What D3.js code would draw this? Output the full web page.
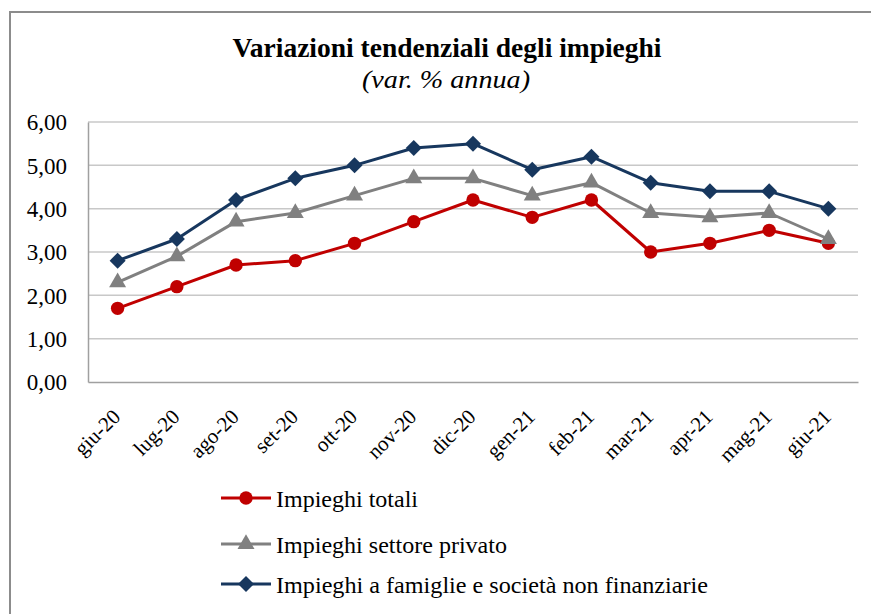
<!DOCTYPE html>
<html><head><meta charset="utf-8">
<script src="https://cdn.jsdelivr.net/npm/d3@7"></script>
<style>html,body{margin:0;background:#fff;overflow:hidden}svg{display:block}</style>
</head><body>
<svg id="c" width="871" height="614"></svg>
<script>
const categories = ["giu-20","lug-20","ago-20","set-20","ott-20","nov-20","dic-20","gen-21","feb-21","mar-21","apr-21","mag-21","giu-21"];
const totali = [1.7,2.2,2.7,2.8,3.2,3.7,4.2,3.8,4.2,3.0,3.2,3.5,3.2];
const privato = [2.3,2.9,3.7,3.9,4.3,4.7,4.7,4.3,4.6,3.9,3.8,3.9,3.3];
const famiglie = [2.8,3.3,4.2,4.7,5.0,5.4,5.5,4.9,5.2,4.6,4.4,4.4,4.0];
const yTicks = [0,1,2,3,4,5,6];
const seriesNames = ["Impieghi totali","Impieghi settore privato","Impieghi a famiglie e società non finanziarie"];

const series = [
  {name: seriesNames[0], values: totali, color: "#C00000", marker: "circle"},
  {name: seriesNames[1], values: privato, color: "#808080", marker: "triangle"},
  {name: seriesNames[2], values: famiglie, color: "#17375E", marker: "diamond"}
];

const svg = d3.select("#c");
const serif = "'Liberation Serif','Times New Roman',serif";
const L = 88, R = 858, T = 122, B = 382;

// outer frame (top and left edges visible)
svg.append("path").attr("d","M10,614 L10,12 L871,12")
  .attr("fill","none").attr("stroke","#8c8c8c").attr("stroke-width",2);

const x = d3.scaleBand().domain(categories).range([L,R]);
const y = d3.scaleLinear().domain([0,6]).range([B,T]);

// gridlines
svg.append("g").selectAll("line").data(yTicks.filter(d=>d>0)).join("line")
  .attr("x1",L).attr("x2",R).attr("y1",d=>y(d)).attr("y2",d=>y(d))
  .attr("stroke","#c8c8c8").attr("stroke-width",1.5);

// y axis
const ya = svg.append("g").attr("transform",`translate(${L},0)`)
  .call(d3.axisLeft(y).tickValues(yTicks).tickSize(0).tickPadding(21)
    .tickFormat(d=>d3.format(".2f")(d).replace(".",",")));
ya.select(".domain").attr("stroke","#a0a0a0").attr("stroke-width",1.5);
ya.selectAll("text").attr("font-family",serif).attr("font-size",23).attr("fill","#000").attr("dy","0.34em");

// x axis
const xa = svg.append("g").attr("transform",`translate(0,${B})`)
  .call(d3.axisBottom(x).tickSize(0).tickPadding(0));
xa.select(".domain").attr("stroke","#a0a0a0").attr("stroke-width",1.5);
xa.selectAll("text").attr("font-family",serif).attr("font-size",21).attr("fill","#000")
  .attr("text-anchor","end").attr("dy",0).attr("y",0)
  .attr("transform","translate(4,36) rotate(-45)");

const cx = d => x(d) + x.bandwidth()/2;
const sym = {circle: d3.symbolCircle, triangle: d3.symbolTriangle, diamond: d3.symbolSquare};
const symSize = {circle: 140, triangle: 125, diamond: 128};
const symRot = {circle: 0, triangle: 0, diamond: 45};

series.forEach(s => {
  const line = d3.line().x((d,i)=>cx(categories[i])).y(d=>y(d));
  svg.append("path").datum(s.values).attr("d",line).attr("fill","none")
    .attr("stroke",s.color).attr("stroke-width",3).attr("stroke-linejoin","round");
  svg.append("g").selectAll("path").data(s.values).join("path")
    .attr("transform",(d,i)=>`translate(${cx(categories[i])},${y(d)}) rotate(${symRot[s.marker]})`)
    .attr("d",d3.symbol().type(sym[s.marker]).size(symSize[s.marker]))
    .attr("fill",s.color);
});

// title
svg.append("text").attr("x",447).attr("y",57).attr("text-anchor","middle")
  .attr("font-family",serif).attr("font-weight","bold").attr("font-size",28)
  .attr("textLength",429).attr("lengthAdjust","spacingAndGlyphs")
  .text("Variazioni tendenziali degli impieghi");
svg.append("text").attr("x",446).attr("y",88).attr("text-anchor","middle")
  .attr("font-family",serif).attr("font-style","italic").attr("font-size",25)
  .attr("textLength",168).attr("lengthAdjust","spacingAndGlyphs")
  .text("(var. % annua)");

// legend
const ly = [498,544,584];
const lw = [142,231,432];
series.forEach((s,i) => {
  const g = svg.append("g").attr("transform",`translate(0,${ly[i]})`);
  g.append("line").attr("x1",221).attr("x2",271).attr("y1",0).attr("y2",0)
    .attr("stroke",s.color).attr("stroke-width",3);
  g.append("path").attr("transform",`translate(246,0) rotate(${symRot[s.marker]})`)
    .attr("d",d3.symbol().type(sym[s.marker]).size(symSize[s.marker])).attr("fill",s.color);
  g.append("text").attr("x",276).attr("y",9).attr("font-family",serif).attr("font-size",24)
    .attr("textLength",lw[i]).attr("lengthAdjust","spacingAndGlyphs").text(s.name);
});
</script>
</body></html>
